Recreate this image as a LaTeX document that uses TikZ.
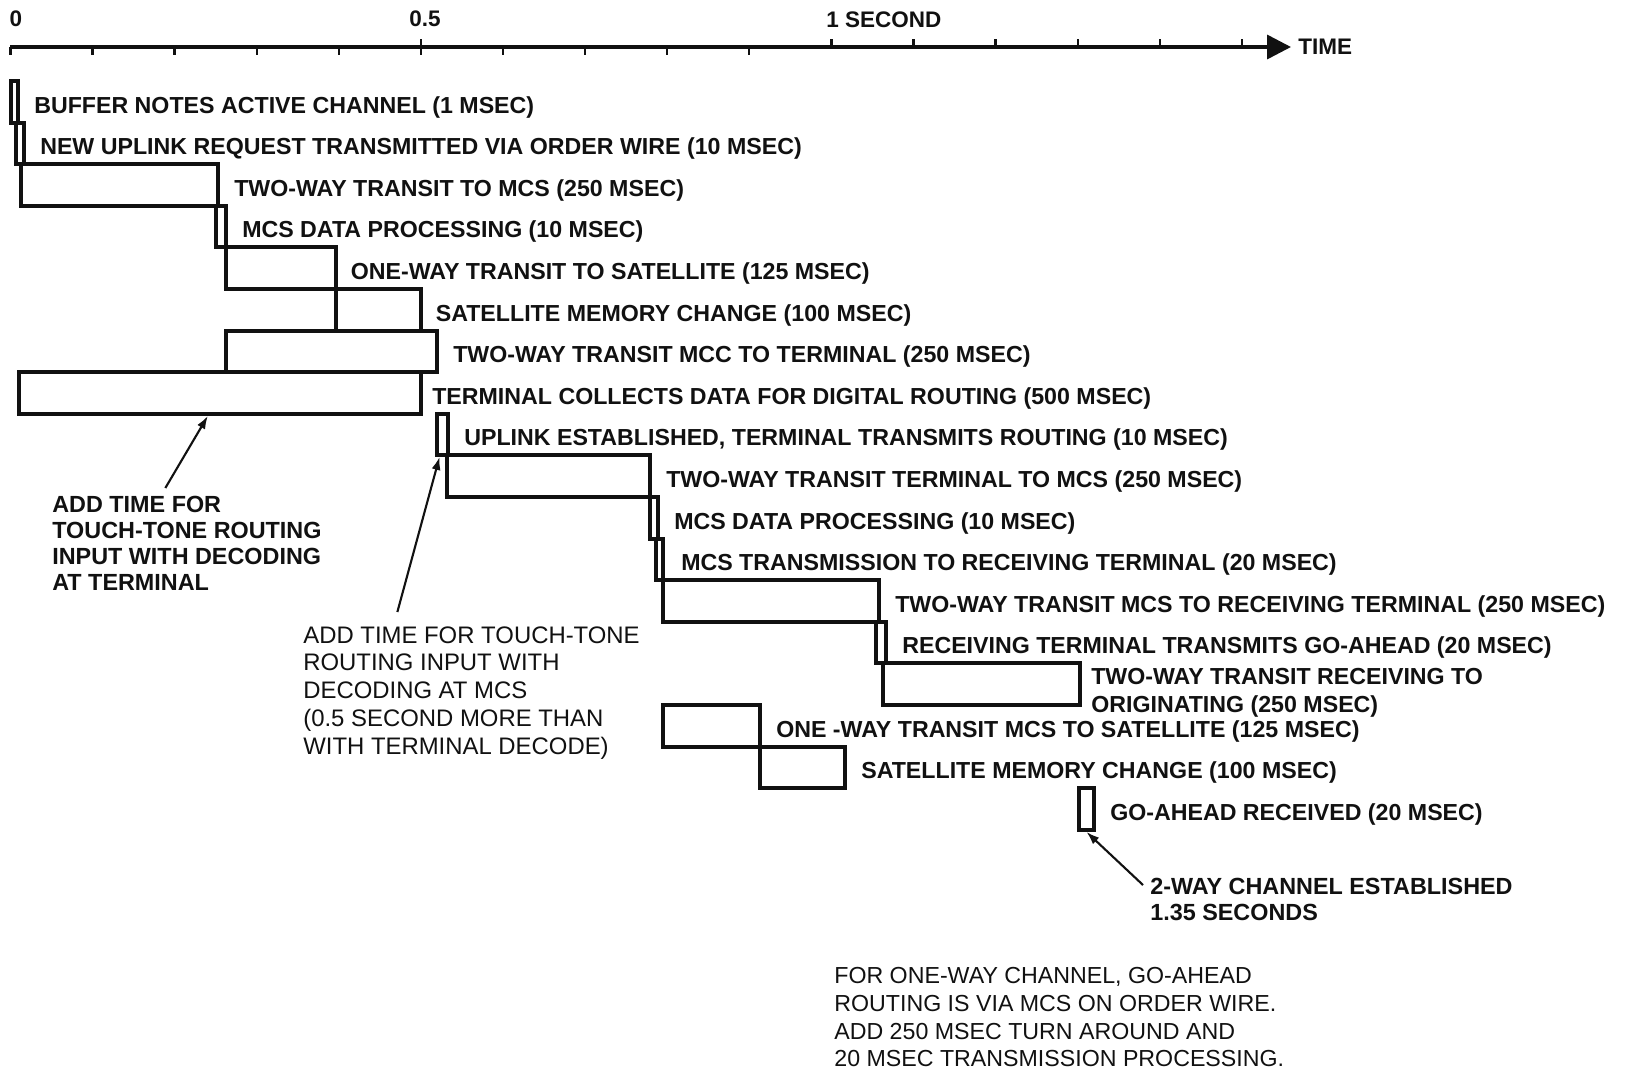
\documentclass[tikz,border=0pt]{standalone}
\usepackage{fontspec}
\setmainfont{Liberation Sans}
\usetikzlibrary{arrows.meta,positioning,calc,fit}
\definecolor{Tinta}{RGB}{17,17,17}
\tikzset{
  barra/.style={draw=Tinta, line width=2.2pt, inner sep=0pt},
  etiq/.style={font=\fontsize{13.2}{15.8}\selectfont\bfseries, text=Tinta,
    inner sep=0pt, align=left, yshift=-0.1cm},
  rotulo/.style={font=\fontsize{12.8}{15.3}\selectfont\bfseries, text=Tinta, inner sep=0pt},
  nota/.style={font=\fontsize{13.3}{14.8}\selectfont\bfseries, text=Tinta,
    inner sep=0pt, align=left, anchor=north west},
  notafina/.style={nota, font=\fontsize{13.6}{15.8}\selectfont},
  marca/.style={draw=Tinta, line width=1.3pt},
  ejearr/.style={-{Triangle[length=4.8mm, width=4.8mm]}, line width=2pt, Tinta},
  notaarr/.style={-{Latex[length=2.6mm, width=1.8mm]}, line width=1.2pt, Tinta},
}

\begin{document}
\begin{tikzpicture}[x=0.02cm, y=-0.02cm]
  \useasboundingbox[fill=white] (0,0) rectangle (1629,1069);
  % ---- eje de tiempo ----
  \coordinate (ini) at (10,47);
  \coordinate (fin) at (1291,47);
  \draw[ejearr] (ini) -- (fin);
  \foreach \i in {0,...,9} \draw[marca] ({10.4+82.1*\i},47) -- ++(0,8);
  \foreach \i in {5,10,11,...,15} \draw[marca] ({10.4+82.1*\i},47) -- ++(0,-8);
  \node[rotulo] (m0) at (16,19) {0};
  \node[rotulo] (m05) at (425,19) {0.5};
  \node[rotulo, anchor=west] (m1) at (826,20) {1 SECOND};
  \node[rotulo, right=0.14cm of fin] (tiempo) {TIME};

  % ---- barras ----
  \node[barra, fit={(11,81) (18,123)}] (b1) {};
  \node[barra, fit={(16,123) (24,164)}] (b2) {};
  \node[barra, fit={(21,164) (218,206)}] (b3) {};
  \node[barra, fit={(216,206) (226,247)}] (b4) {};
  \node[barra, fit={(226,247) (336,289)}] (b5) {};
  \node[barra, fit={(336,289) (421,331)}] (b6) {};
  \node[barra, fit={(226,331) (437,372)}] (b7) {};
  \node[barra, fit={(19,372) (421,414)}] (b8) {};
  \node[barra, fit={(437,414) (448,455)}] (b9) {};
  \node[barra, fit={(447,455) (650,497)}] (b10) {};
  \node[barra, fit={(650,497) (658,539)}] (b11) {};
  \node[barra, fit={(656,539) (663,580)}] (b12) {};
  \node[barra, fit={(663,580) (879,622)}] (b13) {};
  \node[barra, fit={(876,622) (886,663)}] (b14) {};
  \node[barra, fit={(883,663) (1080,705)}] (b15) {};
  \node[barra, fit={(663,705) (760,747)}] (b16) {};
  \node[barra, fit={(760,747) (845,788)}] (b17) {};
  \node[barra, fit={(1079,788) (1094,830)}] (b18) {};

  % ---- etiquetas ----
  \node[etiq, right=0.28cm of b1] (e1) {BUFFER NOTES ACTIVE CHANNEL (1 MSEC)};
  \node[etiq, right=0.28cm of b2] (e2) {NEW UPLINK REQUEST TRANSMITTED VIA ORDER WIRE (10 MSEC)};
  \node[etiq, right=0.28cm of b3] (e3) {TWO-WAY TRANSIT TO MCS (250 MSEC)};
  \node[etiq, right=0.28cm of b4] (e4) {MCS DATA PROCESSING (10 MSEC)};
  \node[etiq, right=0.25cm of b5] (e5) {ONE-WAY TRANSIT TO SATELLITE (125 MSEC)};
  \node[etiq, right=0.25cm of b6] (e6) {SATELLITE MEMORY CHANGE (100 MSEC)};
  \node[etiq, right=0.28cm of b7] (e7) {TWO-WAY TRANSIT MCC TO TERMINAL (250 MSEC)};
  \node[etiq, right=0.18cm of b8] (e8) {TERMINAL COLLECTS DATA FOR DIGITAL ROUTING (500 MSEC)};
  \node[etiq, right=0.28cm of b9] (e9) {UPLINK ESTABLISHED, TERMINAL TRANSMITS ROUTING (10 MSEC)};
  \node[etiq, right=0.28cm of b10] (e10) {TWO-WAY TRANSIT TERMINAL TO MCS (250 MSEC)};
  \node[etiq, right=0.28cm of b11] (e11) {MCS DATA PROCESSING (10 MSEC)};
  \node[etiq, right=0.32cm of b12] (e12) {MCS TRANSMISSION TO RECEIVING TERMINAL (20 MSEC)};
  \node[etiq, right=0.28cm of b13] (e13) {TWO-WAY TRANSIT MCS TO RECEIVING TERMINAL (250 MSEC)};
  \node[etiq, right=0.28cm of b14] (e14) {RECEIVING TERMINAL TRANSMITS GO-AHEAD (20 MSEC)};
  \node[etiq, right=0.18cm of b15, yshift=-0.08cm] (e15) {TWO-WAY TRANSIT RECEIVING TO\\ORIGINATING (250 MSEC)};
  \node[etiq, right=0.28cm of b16] (e16) {ONE -WAY TRANSIT MCS TO SATELLITE (125 MSEC)};
  \node[etiq, right=0.28cm of b17] (e17) {SATELLITE MEMORY CHANGE (100 MSEC)};
  \node[etiq, right=0.28cm of b18] (e18) {GO-AHEAD RECEIVED (20 MSEC)};

  % ---- notas ----
  \node[nota] (notaA) at (52,496) {ADD TIME FOR\\TOUCH-TONE ROUTING\\INPUT WITH DECODING\\AT TERMINAL};
  \node[notafina] (notaB) at (303,626) {ADD TIME FOR TOUCH-TONE\\ROUTING INPUT WITH\\DECODING AT MCS\\(0.5 SECOND MORE THAN\\WITH TERMINAL DECODE)};
  \node[nota] (notaC) at (1150,878) {2-WAY CHANNEL ESTABLISHED\\1.35 SECONDS};
  \node[notafina, font=\fontsize{13.2}{15.8}\selectfont] (notaD) at (834,967) {FOR ONE-WAY CHANNEL, GO-AHEAD\\ROUTING IS VIA MCS ON ORDER WIRE.\\ADD 250 MSEC TURN AROUND AND\\20 MSEC TRANSMISSION PROCESSING.};

  \draw[notaarr] ($(notaA.north west)!0.42!(notaA.north east)+(0,-8)$) -- ($(b8.south west)!0.47!(b8.south east)$);
  \draw[notaarr] ($(notaB.north west)!0.28!(notaB.north east)+(0,-14)$) -- ($(b9.south west)!0.3!(b9.south east)$);
  \draw[notaarr] ($(notaC.north west)+(-7,7)$) -- (b18.south);
\end{tikzpicture}
\end{document}
